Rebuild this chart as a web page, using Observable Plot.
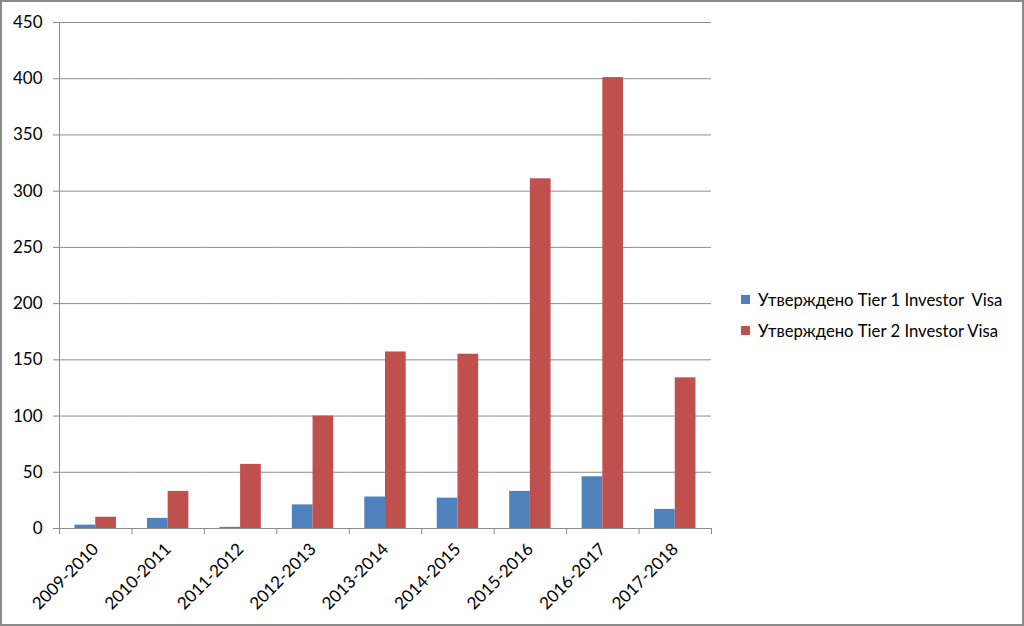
<!DOCTYPE html>
<html>
<head>
<meta charset="utf-8">
<script src="https://cdn.jsdelivr.net/npm/d3@7"></script>
<script src="https://cdn.jsdelivr.net/npm/@observablehq/plot@0.6"></script>
<style>
  html, body { margin: 0; padding: 0; background: #fff; }
  #wrap { position: relative; width: 1024px; height: 626px; overflow: hidden; background: #fff; font-family: Lato, "Open Sans", sans-serif; }
  #chart { position: absolute; left: 0; top: 0; }
  #border { position: absolute; left: 0; top: 0; width: 1024px; height: 626px; box-sizing: border-box; border: 2px solid #8a8a8a; pointer-events: none; }
  #legend { position: absolute; left: 741px; top: 284px; font-size: 16.7px; color: #000; }
  .item { display: flex; align-items: center; height: 31px; white-space: pre; }
  .sw { width: 9px; height: 9px; margin-right: 8px; }
  #chart svg g[aria-label="y-axis tick"] path { stroke: #888; }
  #chart svg g[aria-label="fx-axis tick label"] { font-size: 17px; }
  #chart svg g[aria-label="y-axis tick label"] { font-size: 17px; }
</style>
</head>
<body>
<div id="wrap">
  <div id="chart"></div>
  <div id="legend"></div>
  <div id="border"></div>
</div>
<script>
const categories = ["2009-2010","2010-2011","2011-2012","2012-2013","2013-2014","2014-2015","2015-2016","2016-2017","2017-2018"];
const seriesNames = ["Утверждено Tier 1 Investor  Visa", "Утверждено Tier 2 Investor Visa"];
const tier1 = [3, 9, 1, 21, 28, 27, 33, 46, 17];
const tier2 = [10, 33, 57, 100, 157, 155, 311, 401, 134];
const colors = ["#4F81BD", "#C0504D"];
const yTicks = [0, 50, 100, 150, 200, 250, 300, 350, 400, 450];

const data = categories.flatMap((c, i) => [
  {cat: c, series: seriesNames[0], value: tier1[i]},
  {cat: c, series: seriesNames[1], value: tier2[i]}
]);

const W = 1024, H = 626, ML = 59, MR = 313, MT = 22, MB = 98;
const band = (W - ML - MR) / categories.length;
const outer = 0.75;
const step = band / (2 + 2 * outer);
const edge = (outer + 0.5) * step; // distance from first bar centre to facet edge

const chart = Plot.plot({
  width: W, height: H,
  marginLeft: ML, marginRight: MR, marginTop: MT, marginBottom: MB,
  style: {fontFamily: "Lato, 'Open Sans', sans-serif", fontSize: "16px", color: "#000", background: "transparent", overflow: "visible"},
  fx: {domain: categories, padding: 0, round: false, label: null, tickRotate: -45, tickSize: 0, tickPadding: 18},
  x: {domain: seriesNames, paddingInner: 0, paddingOuter: outer, round: false, axis: null},
  y: {domain: [0, 450], ticks: yTicks, label: null, tickSize: 6, tickPadding: 11},
  color: {domain: seriesNames, range: colors},
  marks: [
    Plot.ruleY(yTicks, {stroke: "#8c8c8c", strokeWidth: 1}),
    Plot.barY(data, {fx: "cat", x: "series", y: "value", fill: "series"}),
    Plot.ruleX(categories, {fx: d => d, x: () => seriesNames[0], dx: -edge,
      y1: d => d === categories[0] ? 450 : 0, y2: () => 0, insetBottom: -6, stroke: "#8c8c8c"}),
    Plot.ruleX([categories[categories.length - 1]], {fx: d => d, x: () => seriesNames[1], dx: edge,
      y1: () => 0, y2: () => 0, insetBottom: -6, stroke: "#8c8c8c"})
  ]
});
document.getElementById("chart").appendChild(chart);

const legend = document.getElementById("legend");
seriesNames.forEach((s, i) => {
  const it = document.createElement("div");
  it.className = "item";
  const sw = document.createElement("span");
  sw.className = "sw";
  sw.style.background = colors[i];
  const t = document.createElement("span");
  t.textContent = s;
  it.appendChild(sw);
  it.appendChild(t);
  legend.appendChild(it);
});
</script>
</body>
</html>
